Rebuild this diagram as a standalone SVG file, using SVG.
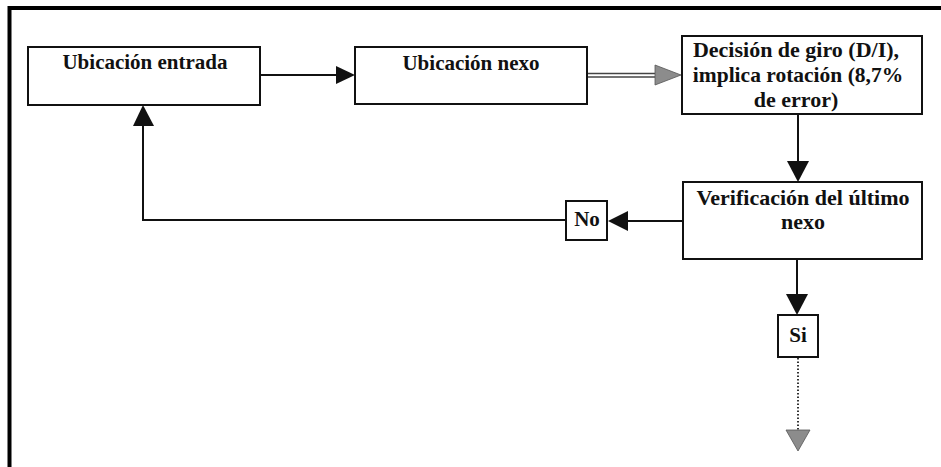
<svg xmlns="http://www.w3.org/2000/svg" width="941" height="467" viewBox="0 0 941 467">
  <style>
    .box { fill: #ffffff; stroke: #111111; stroke-width: 2; }
    .wire { fill: none; stroke: #111111; stroke-width: 2; }
    .head { fill: #111111; }
    .grey { fill: #8c8c8c; stroke: #555555; stroke-width: 0.8; }
  </style>

  <rect width="941" height="467" fill="#ffffff"/>

  <!-- outer frame (top and left edges) -->
  <path d="M9.5 467 V8 H941" fill="none" stroke="#000000" stroke-width="4"/>

  <g id="connectors">
    <!-- entrada -> nexo -->
    <line class="wire" x1="260" y1="75" x2="338" y2="75"/>
    <polygon class="head" points="336,66 355,75 336,84"/>
    <!-- nexo -> decision (double grey line) -->
    <line x1="587" y1="73.5" x2="658" y2="73.5" stroke="#444444" stroke-width="1.6"/>
    <line x1="587" y1="77" x2="658" y2="77" stroke="#444444" stroke-width="1.6"/>
    <polygon class="grey" points="655,65 681,75 655,85"/>
    <!-- decision -> verificacion -->
    <line class="wire" x1="798" y1="114" x2="798" y2="164"/>
    <polygon class="head" points="787,161 798,182 809,161"/>
    <!-- verificacion -> No -->
    <line class="wire" x1="683" y1="221" x2="626" y2="221"/>
    <polygon class="head" points="628,211 608,221 628,231"/>
    <!-- No -> entrada -->
    <polyline class="wire" points="566,220 143,220 143,124"/>
    <polygon class="head" points="133,126 143,105 154,126"/>
    <!-- verificacion -> Si -->
    <line class="wire" x1="797" y1="259" x2="797" y2="297"/>
    <polygon class="head" points="786,294 797,315 808,294"/>
    <!-- Si -> continuation (dotted) -->
    <line x1="798" y1="358" x2="798" y2="432" stroke="#333333" stroke-width="2" stroke-dasharray="1.5,2"/>
    <polygon class="grey" points="786,430 810,430 798,451"/>
  </g>

  <g id="ubicacion-entrada">
    <rect class="box" x="28" y="47" width="232" height="58"/>
    <text x="145" y="69" font-family="Liberation Serif, serif" font-weight="bold" font-size="21" fill="#111111" text-anchor="middle">Ubicación entrada</text>
  </g>

  <g id="ubicacion-nexo">
    <rect class="box" x="355" y="47" width="232" height="57"/>
    <text x="471" y="70" font-family="Liberation Serif, serif" font-weight="bold" font-size="21" fill="#111111" text-anchor="middle">Ubicación nexo</text>
  </g>

  <g id="decision-giro">
    <rect class="box" x="682" y="36" width="240" height="78"/>
    <text x="796" y="57" font-family="Liberation Serif, serif" font-weight="bold" font-size="22" fill="#111111" text-anchor="middle">Decisión de giro (D/I),</text>
    <text x="798" y="82" font-family="Liberation Serif, serif" font-weight="bold" font-size="21.5" fill="#111111" text-anchor="middle">implica rotación (8,7%</text>
    <text x="796" y="107" font-family="Liberation Serif, serif" font-weight="bold" font-size="22" fill="#111111" text-anchor="middle">de error)</text>
  </g>

  <g id="verificacion">
    <rect class="box" x="683" y="182" width="239" height="77"/>
    <text x="803" y="205" font-family="Liberation Serif, serif" font-weight="bold" font-size="22" fill="#111111" text-anchor="middle">Verificación del último</text>
    <text x="803" y="229" font-family="Liberation Serif, serif" font-weight="bold" font-size="22" fill="#111111" text-anchor="middle">nexo</text>
  </g>

  <g id="no">
    <rect class="box" x="566" y="201" width="41" height="39"/>
    <text x="587" y="226" font-family="Liberation Serif, serif" font-weight="bold" font-size="21" fill="#111111" text-anchor="middle">No</text>
  </g>

  <g id="si">
    <rect class="box" x="778" y="315" width="40" height="42"/>
    <text x="798" y="342" font-family="Liberation Serif, serif" font-weight="bold" font-size="21" fill="#111111" text-anchor="middle">Si</text>
  </g>
</svg>
